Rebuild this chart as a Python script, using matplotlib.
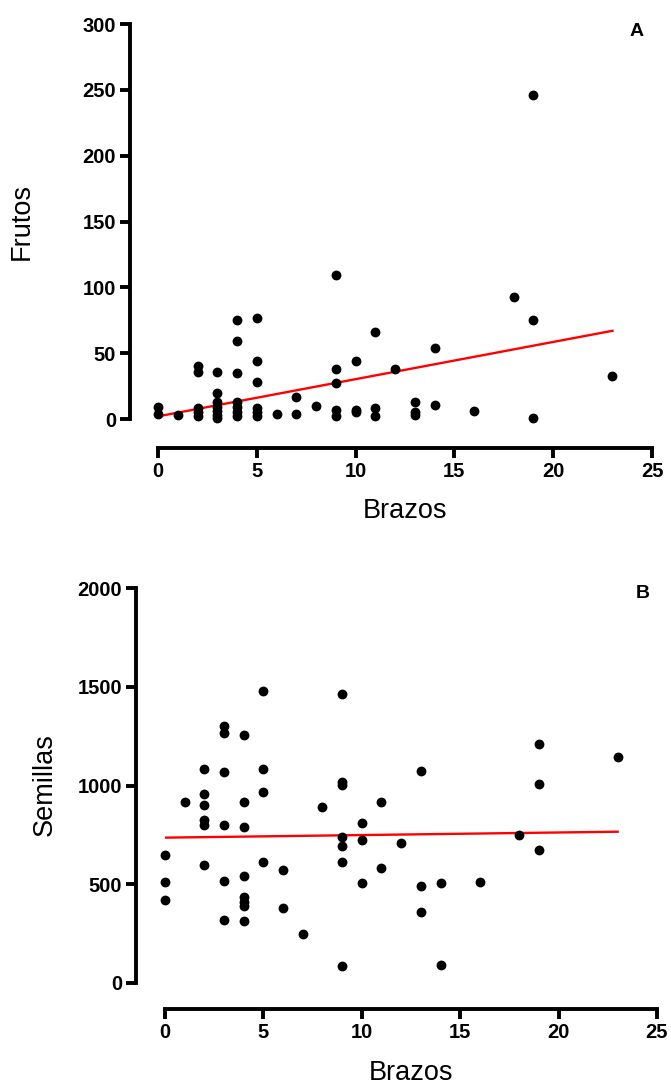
import numpy as np
import matplotlib
matplotlib.use("Agg")
import matplotlib.pyplot as plt

# ---------------- Data ----------------
# Panel A: Frutos vs Brazos
brazos_a = [0, 0,
            1,
            2, 2, 2, 2, 2,
            3, 3, 3, 3, 3, 3, 3,
            4, 4, 4, 4, 4, 4, 4,
            5, 5, 5, 5, 5, 5,
            6,
            7, 7,
            8,
            9, 9, 9, 9, 9,
            10, 10, 10,
            11, 11, 11,
            12,
            13, 13, 13,
            14, 14,
            16,
            18,
            19, 19, 19,
            23]
frutos = [9, 4,
          3,
          40, 36, 8, 5, 2,
          36, 20, 13, 9, 6, 3, 1,
          75, 59, 35, 13, 9, 5, 2,
          77, 44, 28, 8, 5, 2,
          4,
          17, 4,
          10,
          109, 38, 27, 7, 2,
          44, 7, 5,
          66, 8, 2,
          38,
          13, 5, 3,
          54, 11,
          6,
          93,
          246, 75, 1,
          33]
fit_a_x = [0, 23]
fit_a_y = [2, 67]

# Panel B: Semillas vs Brazos
brazos_b = [0, 0, 0,
            1,
            2, 2, 2, 2, 2, 2,
            3, 3, 3, 3, 3, 3,
            4, 4, 4, 4, 4, 4, 4, 4,
            5, 5, 5, 5,
            6, 6,
            7,
            8,
            9, 9, 9, 9, 9, 9, 9,
            10, 10, 10,
            11, 11,
            12,
            13, 13, 13,
            14, 14,
            16,
            18,
            19, 19, 19,
            23]
semillas = [650, 510, 420,
            915,
            1085, 955, 900, 825, 800, 597,
            1303, 1267, 1068, 800, 515, 319,
            1254, 918, 791, 542, 437, 412, 390, 312,
            1480, 1085, 969, 611,
            570, 381,
            250,
            891,
            1462, 1019, 1003, 741, 694, 614, 88,
            812, 724, 508,
            918, 581,
            709,
            1073, 493, 361,
            506, 91,
            513,
            748,
            1212, 1009, 673,
            1143]
fit_b_x = [0, 23]
fit_b_y = [736, 766]

x_ticks = [0, 5, 10, 15, 20, 25]
ya_ticks = [0, 50, 100, 150, 200, 250, 300]
yb_ticks = [0, 500, 1000, 1500, 2000]

# ---------------- Figure ----------------
W, H = 671, 1085
fig = plt.figure(figsize=(W / 100, H / 100), dpi=100)

FAM = ["Liberation Sans", "DejaVu Sans"]
TICKSIZE = 14.5
LABELFONT = dict(family=FAM, size=19.5)


def px_axes(x0, x1, ytop, ybot):
    return fig.add_axes([x0 / W, 1 - ybot / H, (x1 - x0) / W, (ybot - ytop) / H])


def style(ax, left_off_px, bottom_off_px):
    for s in ["top", "right"]:
        ax.spines[s].set_visible(False)
    for s in ["left", "bottom"]:
        ax.spines[s].set_linewidth(2.8)
        ax.spines[s].set_color("black")
        ax.spines[s].set_capstyle("projecting")
    ax.spines["left"].set_position(("outward", left_off_px * 72 / 100))
    ax.spines["bottom"].set_position(("outward", bottom_off_px * 72 / 100))
    ax.tick_params(axis="both", direction="out", length=7, width=2.8,
                   color="black", pad=3)
    for lab in ax.get_xticklabels() + ax.get_yticklabels():
        lab.set_family(FAM)
        lab.set_weight("bold")
        lab.set_size(TICKSIZE)
    ax.patch.set_visible(False)


# Panel A
axA = px_axes(158, 652, 24, 419)
axA.scatter(brazos_a, frutos, s=50, color="black", zorder=3, linewidths=0,
            clip_on=False)
axA.plot(fit_a_x, fit_a_y, color="red", lw=1.7, zorder=2)
axA.set_xlim(0, 25)
axA.set_ylim(0, 300)
axA.set_xticks(x_ticks)
axA.set_yticks(ya_ticks)
style(axA, 28, 29)

# Panel B
axB = px_axes(165, 657, 588, 983)
axB.scatter(brazos_b, semillas, s=50, color="black", zorder=3, linewidths=0,
            clip_on=False)
axB.plot(fit_b_x, fit_b_y, color="red", lw=1.7, zorder=2)
axB.set_xlim(0, 25)
axB.set_ylim(0, 2000)
axB.set_xticks(x_ticks)
axB.set_yticks(yb_ticks)
style(axB, 29, 26)


# Labels (pixel positions)
def ftext(x, y, s, **kw):
    fig.text(x / W, 1 - y / H, s, ha="center", va="center", **kw)


ftext(22, 222, "Frutos", rotation=90, **LABELFONT)
ftext(405, 511, "Brazos", **LABELFONT)
ftext(45, 785, "Semillas", rotation=90, **LABELFONT)
ftext(411, 1073, "Brazos", **LABELFONT)
ftext(637, 31, "A", family=FAM, weight="bold", size=14)
ftext(643, 594, "B", family=FAM, weight="bold", size=14)

fig.savefig("out.png", dpi=100, facecolor="white")
